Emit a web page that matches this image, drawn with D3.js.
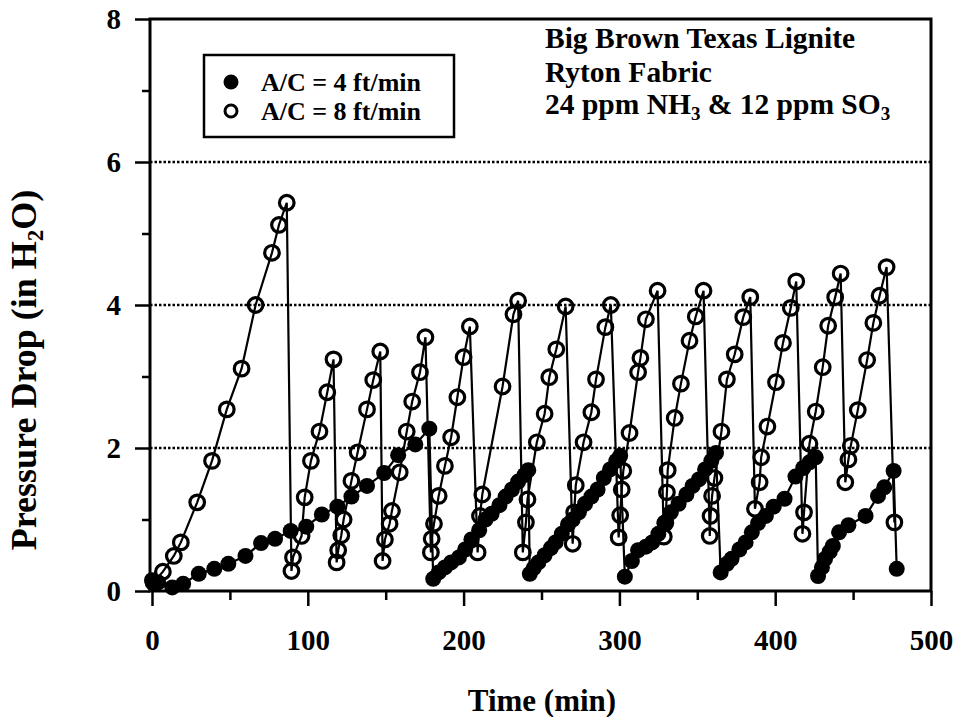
<!DOCTYPE html>
<html lang="en">
<head>
<meta charset="UTF-8">
<title>Pressure Drop</title>
<script src="https://d3js.org/d3.v7.min.js"></script>
<style>
    body { margin: 0; background: #fff; }
    svg text {
        font-family: "Liberation Serif", "Times New Roman", serif;
        font-weight: bold;
        fill: #000;
    }
</style>
</head>
<body>
<script>
    // A/C = 4 ft/min (filled circles), one row per cleaning cycle
    var timeA = [
        0, 4, 13, 20, 30, 40, 49, 60, 70, 79, 89, 99, 109, 119, 128, 138, 149, 158, 169, 178,
        180.5, 184, 188, 192, 197, 201, 205, 210, 214, 218, 223, 227, 231, 235, 239, 241.5,
        242.5, 245, 248, 252, 256, 259, 263, 267, 270, 274, 278, 282, 286, 290, 294, 298, 300.5,
        303.5, 308, 312, 317, 321, 325, 329, 333, 338, 343, 347, 351, 355, 359, 362,
        365, 369, 372, 377, 381, 385, 389, 394, 399, 406, 413, 418, 422, 426,
        427.5, 430, 432, 435, 437, 441, 447, 458, 466, 470, 476, 478
    ];
    var pdA = [
        0.15, 0.12, 0.05, 0.1, 0.24, 0.31, 0.38, 0.49, 0.67, 0.73, 0.84, 0.9, 1.07, 1.18, 1.32, 1.47, 1.65, 1.9, 2.05, 2.27,
        0.17, 0.26, 0.33, 0.40, 0.47, 0.58, 0.72, 0.85, 1.0, 1.08, 1.2, 1.32, 1.42, 1.53, 1.62, 1.69,
        0.24, 0.32, 0.4, 0.5, 0.6, 0.68, 0.8, 0.93, 1.0, 1.1, 1.22, 1.32, 1.42, 1.58, 1.7, 1.82, 1.89,
        0.2, 0.42, 0.57, 0.62, 0.68, 0.8, 0.95, 1.1, 1.22, 1.35, 1.47, 1.56, 1.7, 1.82, 1.93,
        0.26, 0.38, 0.45, 0.58, 0.68, 0.82, 0.95, 1.05, 1.18, 1.29, 1.6, 1.72, 1.8, 1.87,
        0.21, 0.33, 0.45, 0.55, 0.63, 0.82, 0.92, 1.05, 1.33, 1.45, 1.68, 0.31
    ];

    // A/C = 8 ft/min (open circles)
    var timeB = [
        1, 7, 14, 18.5, 29, 38.5, 48, 57.5, 66.5, 77, 81.5, 86.5,
        89.5, 90.5, 96, 98, 102, 107.5, 112.5, 116.5,
        118.5, 119.5, 121.5, 123, 128, 132, 138, 142, 146.5,
        148, 149.5, 152.5, 154, 159, 163.5, 167, 172, 175.5,
        179, 179.5, 181, 184, 188, 192, 196, 200, 204,
        209, 210.5, 212, 225, 232, 235,
        238, 240, 241, 247, 252, 255, 259.5, 265.5,
        270, 271, 272, 277, 282, 285, 291, 294.5,
        299.5, 300.5, 301.5, 302.5, 306.5, 312, 313.5, 317, 324.5,
        328.5, 329.5, 330.5, 331, 335.5, 339.5, 345, 349, 354,
        358, 358.5, 359.5, 361, 365.5, 369, 374, 379.5, 384,
        387, 390, 391, 395, 400.5, 405, 410, 413.5,
        417.5, 418.5, 422, 426, 430.5, 434, 438.5, 442,
        445, 447, 448.5, 453, 459, 463, 467, 471.5, 476.5
    ];
    var pdB = [
        0.12, 0.27, 0.49, 0.68, 1.24, 1.82, 2.54, 3.11, 4.0, 4.73, 5.12, 5.43,
        0.28, 0.47, 0.77, 1.31, 1.82, 2.23, 2.78, 3.24,
        0.40, 0.57, 0.78, 1.0, 1.54, 1.94, 2.54, 2.95, 3.35,
        0.42, 0.72, 0.94, 1.12, 1.66, 2.23, 2.65, 3.06, 3.55,
        0.54, 0.73, 0.94, 1.33, 1.75, 2.15, 2.71, 3.27, 3.70,
        0.54, 1.05, 1.35, 2.86, 3.87, 4.06,
        0.54, 0.96, 1.28, 2.08, 2.48, 2.99, 3.38, 3.98,
        0.66, 1.10, 1.48, 2.08, 2.50, 2.96, 3.69, 4.0,
        0.75, 1.06, 1.42, 1.68, 2.21, 3.06, 3.26, 3.80, 4.20,
        0.76, 0.95, 1.38, 1.69, 2.42, 2.90, 3.50, 3.84, 4.20,
        0.77, 1.05, 1.33, 1.58, 2.23, 2.96, 3.31, 3.83, 4.11,
        1.15, 1.52, 1.87, 2.30, 2.92, 3.47, 3.96, 4.33,
        0.80, 1.10, 2.06, 2.51, 3.13, 3.71, 4.11, 4.44,
        1.52, 1.84, 2.03, 2.53, 3.23, 3.75, 4.13, 4.53, 0.96
    ];

    var xTicks = [0, 100, 200, 300, 400, 500];
    var xMinor = [50, 150, 250, 350, 450];
    var yTicks = [0, 2, 4, 6, 8];
    var yMinor = [1, 3, 5, 7];
    var gridValues = [2, 4, 6];
    var seriesNames = ['A/C = 4 ft/min', 'A/C = 8 ft/min'];

    var width = 955;
    var height = 717;
    var plotLeft = 150, plotRight = 931, plotTop = 19, plotBottom = 591;

    var svg = d3.select('body')
        .append('svg')
        .attr('width', width)
        .attr('height', height);

    var xscale = d3.scaleLinear()
        .domain([0, 500])
        .range([152, plotRight]);

    var yscale = d3.scaleLinear()
        .domain([0, 8])
        .range([plotBottom, plotTop]);

    // dotted grid lines
    svg.selectAll('.grid')
        .data(gridValues)
        .enter()
        .append('line')
        .attr('class', 'grid')
        .attr('x1', plotLeft)
        .attr('x2', plotRight)
        .attr('y1', yscale)
        .attr('y2', yscale)
        .attr('stroke', '#000')
        .attr('stroke-width', 2.5)
        .attr('stroke-dasharray', '2.5 2');

    // axes
    var yaxis = d3.axisLeft(yscale)
        .tickValues(yTicks)
        .tickSize(15)
        .tickPadding(14)
        .tickFormat(d3.format('d'));

    var yaxisMinor = d3.axisLeft(yscale)
        .tickValues(yMinor)
        .tickSize(8)
        .tickFormat('');

    var xaxis = d3.axisBottom(xscale)
        .tickValues(xTicks)
        .tickSize(15)
        .tickPadding(23)
        .tickFormat(d3.format('d'));

    var xaxisMinor = d3.axisBottom(xscale)
        .tickValues(xMinor)
        .tickSize(9)
        .tickFormat('');

    var gy = svg.append('g').attr('transform', 'translate(' + plotLeft + ',0)').call(yaxis);
    var gym = svg.append('g').attr('transform', 'translate(' + plotLeft + ',0)').call(yaxisMinor);
    var gx = svg.append('g').attr('transform', 'translate(0,' + plotBottom + ')').call(xaxis);
    var gxm = svg.append('g').attr('transform', 'translate(0,' + plotBottom + ')').call(xaxisMinor);

    [gy, gym, gx, gxm].forEach(function (g) {
        g.select('.domain').remove();
        g.selectAll('line').attr('stroke', '#000').attr('stroke-width', 2.5);
        g.selectAll('text')
            .style('font-family', '"Liberation Serif", serif')
            .style('font-weight', 'bold')
            .style('font-size', '29px')
            .attr('fill', '#000');
    });

    // frame
    svg.append('rect')
        .attr('x', plotLeft)
        .attr('y', plotTop)
        .attr('width', plotRight - plotLeft)
        .attr('height', plotBottom - plotTop)
        .attr('fill', 'none')
        .attr('stroke', '#000')
        .attr('stroke-width', 3);

    // series
    var dataA = timeA.map(function (t, i) { return [t, pdA[i]]; });
    var dataB = timeB.map(function (t, i) { return [t, pdB[i]]; });

    var line = d3.line()
        .x(function (d) { return xscale(d[0]); })
        .y(function (d) { return yscale(d[1]); });

    svg.append('path')
        .datum(dataB)
        .attr('d', line)
        .attr('fill', 'none')
        .attr('stroke', '#000')
        .attr('stroke-width', 2.2);

    svg.append('path')
        .datum(dataA)
        .attr('d', line)
        .attr('fill', 'none')
        .attr('stroke', '#000')
        .attr('stroke-width', 2.2);

    svg.selectAll('.open')
        .data(dataB)
        .enter()
        .append('circle')
        .attr('class', 'open')
        .attr('cx', function (d) { return xscale(d[0]); })
        .attr('cy', function (d) { return yscale(d[1]); })
        .attr('r', 7.3)
        .attr('fill', 'none')
        .attr('stroke', '#000')
        .attr('stroke-width', 3.2);

    svg.selectAll('.filled')
        .data(dataA)
        .enter()
        .append('circle')
        .attr('class', 'filled')
        .attr('cx', function (d) { return xscale(d[0]); })
        .attr('cy', function (d) { return yscale(d[1]); })
        .attr('r', 8)
        .attr('fill', '#000');

    // legend
    svg.append('rect')
        .attr('x', 204)
        .attr('y', 55)
        .attr('width', 250)
        .attr('height', 82)
        .attr('fill', '#fff')
        .attr('stroke', '#000')
        .attr('stroke-width', 2.5);

    var legend = svg.selectAll('.legend')
        .data(seriesNames)
        .enter()
        .append('g')
        .attr('class', 'legend')
        .attr('transform', function (d, i) { return 'translate(231,' + (82 + i * 29) + ')'; });

    legend.append('circle')
        .attr('r', function (d, i) { return i === 0 ? 7.5 : 6; })
        .attr('fill', function (d, i) { return i === 0 ? '#000' : 'none'; })
        .attr('stroke', '#000')
        .attr('stroke-width', function (d, i) { return i === 0 ? 0 : 3; });

    legend.append('text')
        .attr('x', 30)
        .attr('y', 9)
        .style('font-size', '26px')
        .text(function (d) { return d; });

    // annotation
    var note = svg.append('g').attr('transform', 'translate(545,0)').style('font-size', '29.5px');
    note.append('text').attr('y', 48).text('Big Brown Texas Lignite');
    note.append('text').attr('y', 82).text('Ryton Fabric');
    var l3 = note.append('text').attr('y', 114);
    l3.append('tspan').text('24 ppm NH');
    l3.append('tspan').attr('dy', 6).style('font-size', '19px').text('3');
    l3.append('tspan').attr('dy', -6).text(' & 12 ppm SO');
    l3.append('tspan').attr('dy', 6).style('font-size', '19px').text('3');

    // axis titles
    svg.append('text')
        .attr('x', 542)
        .attr('y', 711)
        .attr('text-anchor', 'middle')
        .style('font-size', '31px')
        .text('Time (min)');

    var ylab = svg.append('text')
        .attr('transform', 'translate(36,370) rotate(-90)')
        .attr('text-anchor', 'middle')
        .style('font-size', '36px');
    ylab.append('tspan').text('Pressure Drop (in H');
    ylab.append('tspan').attr('dy', 7).style('font-size', '23px').text('2');
    ylab.append('tspan').attr('dy', -7).text('O)');
</script>
</body>
</html>
